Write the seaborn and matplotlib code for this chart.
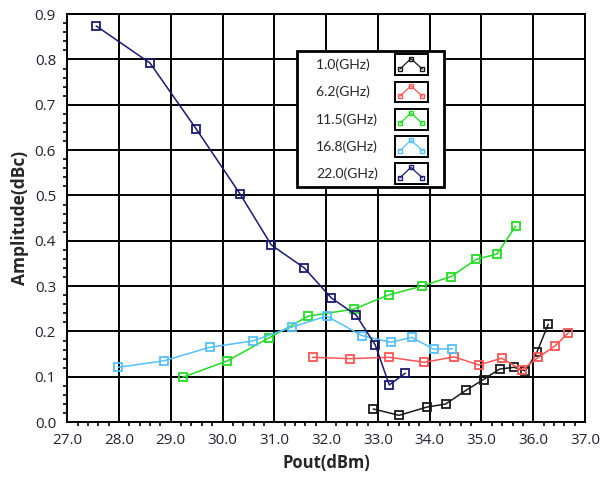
"""Amplitude vs output power for several frequencies."""
import matplotlib
matplotlib.use("Agg")
import matplotlib.pyplot as plt
from matplotlib.legend_handler import HandlerBase
from matplotlib.lines import Line2D
from matplotlib.offsetbox import DrawingArea
from matplotlib.patches import Rectangle
from matplotlib.ticker import MultipleLocator, AutoMinorLocator
import pandas as pd
import seaborn as sns

# values
freq_labels = ["1.0(GHz)", "6.2(GHz)", "11.5(GHz)", "16.8(GHz)", "22.0(GHz)"]
colors = ["#1a1a1a", "#ff5555", "#22dd22", "#55c0ff", "#1a1a70"]

pout_1g = [32.91, 33.41, 33.94, 34.31, 34.70, 35.04, 35.35, 35.63, 35.85, 36.07, 36.29]
amp_1g = [0.029, 0.015, 0.033, 0.040, 0.070, 0.094, 0.117, 0.121, 0.113, 0.154, 0.216]

pout_6g = [31.74, 32.46, 33.22, 33.90, 34.47, 34.95, 35.39, 35.78, 36.10, 36.42, 36.68]
amp_6g = [0.143, 0.140, 0.143, 0.132, 0.144, 0.126, 0.141, 0.115, 0.143, 0.168, 0.197]

pout_11g = [29.23, 30.09, 30.90, 31.66, 32.53, 33.22, 33.85, 34.41, 34.90, 35.30, 35.66]
amp_11g = [0.099, 0.135, 0.186, 0.234, 0.249, 0.281, 0.300, 0.321, 0.359, 0.371, 0.432]

pout_16g = [27.99, 28.86, 29.75, 30.58, 31.35, 32.01, 32.69, 33.25, 33.65, 34.08, 34.44]
amp_16g = [0.121, 0.135, 0.165, 0.179, 0.210, 0.234, 0.191, 0.176, 0.187, 0.161, 0.162]

pout_22g = [27.56, 28.60, 29.49, 30.34, 30.94, 31.58, 32.10, 32.58, 32.95, 33.22, 33.53]
amp_22g = [0.874, 0.792, 0.647, 0.503, 0.391, 0.340, 0.274, 0.236, 0.170, 0.082, 0.108]

pouts = [pout_1g, pout_6g, pout_11g, pout_16g, pout_22g]
amps = [amp_1g, amp_6g, amp_11g, amp_16g, amp_22g]


class BoxedLineHandler(HandlerBase):
    """Legend key: a small framed box with a peaked line and square markers."""

    def create_artists(self, legend, orig_handle, xdescent, ydescent,
                       width, height, fontsize, trans):
        x0, y0 = -xdescent, -ydescent + 0.4
        h = height - 0.8
        box = Rectangle((x0, y0), width, h, facecolor="white",
                        edgecolor="black", linewidth=1.4, transform=trans)
        line = Line2D([x0 + 0.15 * width, x0 + 0.48 * width, x0 + 0.83 * width],
                      [y0 + 0.3 * h, y0 + 0.8 * h, y0 + 0.3 * h],
                      color=orig_handle.get_color(), linewidth=0.9,
                      marker="s", markersize=3.2, markerfacecolor="none",
                      transform=trans)
        return [box, line]


sns.set_style("white")
plt.rcParams["font.family"] = ["Open Sans", "DejaVu Sans"]

fig = plt.figure(figsize=(6, 4.88), dpi=100)
ax = fig.add_axes([0.112, 0.135, 0.863, 0.836])

handles = []
width = max(len(s) for s in freq_labels)
for label, color, x, y in zip(freq_labels, colors, pouts, amps):
    df = pd.DataFrame({"pout": x, "amp": y})
    sns.lineplot(data=df, x="pout", y="amp", ax=ax, sort=False, color=color,
                 linewidth=1.1, marker="s", markersize=6,
                 markerfacecolor="none", markeredgecolor=color,
                 markeredgewidth=1.3)
    # figure spaces keep the labels left-aligned next to the right-hand keys
    handles.append(Line2D([], [], color=color,
                          label=label.ljust(width, "\u2007")))

ax.set_xlim(27, 37)
ax.set_ylim(0, 0.9)
ax.xaxis.set_major_locator(MultipleLocator(1))
ax.yaxis.set_major_locator(MultipleLocator(0.1))
ax.xaxis.set_minor_locator(AutoMinorLocator(5))
ax.yaxis.set_minor_locator(AutoMinorLocator(5))
ax.xaxis.set_major_formatter(lambda v, p: f"{v:.1f}")
ax.yaxis.set_major_formatter(lambda v, p: f"{v:.1f}")
ax.grid(True, which="major", color="black", linewidth=1.4)
ax.tick_params(which="major", direction="out", length=6, width=1.4,
               labelsize=11, colors="black", pad=2)
ax.tick_params(which="minor", direction="out", length=3, width=1.2,
               colors="black", bottom=True, left=True)
for label in ax.get_xticklabels() + ax.get_yticklabels():
    label.set_color("#222233")
for spine in ax.spines.values():
    spine.set_color("black")
    spine.set_linewidth(1.4)

ax.set_xlabel("Pout(dBm)", fontsize=12, fontweight="bold", labelpad=4)
ax.set_ylabel("Amplitude(dBc)", fontsize=12.5, fontweight="bold", labelpad=4)

leg = ax.legend(handles=handles, handler_map={Line2D: BoxedLineHandler()},
                loc="upper left", bbox_to_anchor=(0.444, 0.909),
                markerfirst=False,
                prop={"family": ["Lato", "DejaVu Sans"], "size": 10},
                handlelength=2.37, handleheight=2.05, labelspacing=0.38,
                handletextpad=1.22, borderpad=0.19, borderaxespad=0,
                columnspacing=0, frameon=True, fancybox=False)
# extra side padding inside the legend frame
row_box = leg._legend_handle_box.get_children()
row_box.insert(0, DrawingArea(11.8, 0))
row_box.append(DrawingArea(9.6, 0))
leg.get_frame().set_edgecolor("black")
leg.get_frame().set_linewidth(2)
leg.get_frame().set_alpha(1)

fig.savefig("out.png", dpi=100)
